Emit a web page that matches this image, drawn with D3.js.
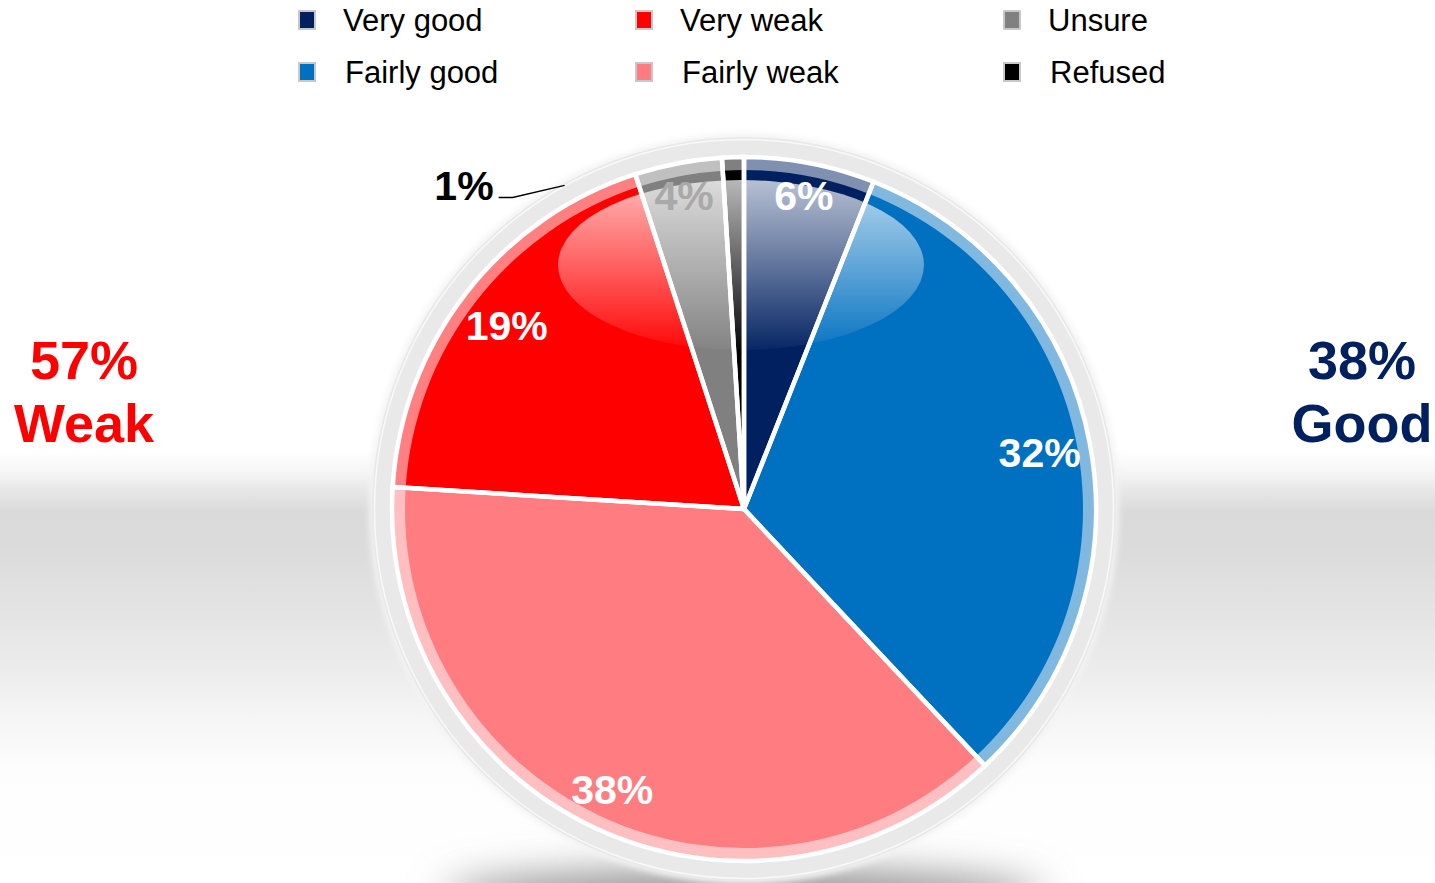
<!DOCTYPE html>
<html>
<head>
<meta charset="utf-8">
<script src="https://cdn.jsdelivr.net/npm/d3@7"></script>
<style>
  html, body { margin: 0; padding: 0; background: #fff; }
  svg { display: block; }
  text { font-family: "Liberation Sans", Arial, Helvetica, sans-serif; }
</style>
</head>
<body>
<svg id="chart" width="1435" height="883"></svg>
<script>
// Survey answers, clockwise from 12 o'clock
const categories = ["Very good", "Fairly good", "Fairly weak", "Very weak", "Unsure", "Refused"];
const values = [6, 32, 38, 19, 4, 1];
const colors = ["#002060", "#0070c0", "#ff7c80", "#ff0000", "#808080", "#000000"];

// Legend layout: three columns of two entries
const legendOrder = ["Very good", "Fairly good", "Very weak", "Fairly weak", "Unsure", "Refused"];

// Summary groups shown beside the pie
const groupNames = ["Weak", "Good"];
const groupMembers = [["Very weak", "Fairly weak"], ["Very good", "Fairly good"]];
const groupColors = ["#ff0000", "#002060"];

const W = 1435, H = 883;
const cx = 744, cy = 509;
const R = 352;          // outer edge of the slices
const bandW = 13;       // light rim on each slice
const ringR = 372;      // grey bezel

const svg = d3.select("#chart");
const defs = svg.append("defs");

// backdrop: a soft grey horizon band behind the pie
const bg = defs.append("linearGradient").attr("id", "bgGrad")
  .attr("x1", 0).attr("y1", 0).attr("x2", 0).attr("y2", 1);
[[0, "#ffffff"], [450, "#ffffff"], [470, "#f7f7f7"], [492, "#e6e6e6"], [512, "#dadada"],
 [545, "#dbdbdb"], [600, "#e2e2e2"], [670, "#ececec"], [720, "#f6f6f6"], [770, "#fdfdfd"], [883, "#ffffff"]]
  .forEach(([y, c]) => bg.append("stop").attr("offset", y / H).attr("stop-color", c));
svg.append("rect").attr("width", W).attr("height", H).attr("fill", "url(#bgGrad)");

// floor shadow
defs.append("filter").attr("id", "shadowBlur").attr("x", "-50%").attr("y", "-200%")
  .attr("width", "200%").attr("height", "500%")
  .append("feGaussianBlur").attr("stdDeviation", 20);
svg.append("ellipse").attr("cx", cx).attr("cy", cy + 388).attr("rx", 300).attr("ry", 26)
  .attr("fill", "#8a8a8a").attr("filter", "url(#shadowBlur)");

const g = svg.append("g").attr("transform", `translate(${cx},${cy})`);

// bezel
defs.append("filter").attr("id", "haloBlur").append("feGaussianBlur").attr("stdDeviation", 3);
g.append("circle").attr("r", ringR + 3).attr("fill", "#f3f3f3").attr("filter", "url(#haloBlur)");
g.append("circle").attr("r", ringR).attr("fill", "#e9e9e9");
g.append("circle").attr("r", ringR - 2.5).attr("fill", "none")
  .attr("stroke", "#ffffff").attr("stroke-opacity", 0.7).attr("stroke-width", 1.5);
g.append("circle").attr("r", R + 1).attr("fill", "#e9e9e9");

const pie = d3.pie().sort(null).value(d => d.value).startAngle(0).endAngle(2 * Math.PI);
const data = categories.map((c, i) => ({ name: c, value: values[i], color: colors[i] }));
const arcs = pie(data);

const arcFull = d3.arc().innerRadius(0).outerRadius(R);
const arcBand = d3.arc().innerRadius(R - bandW).outerRadius(R);

// slices
g.selectAll("path.slice").data(arcs).join("path").attr("class", "slice")
  .attr("d", arcFull).attr("fill", d => d.data.color);

// light rim
g.selectAll("path.band").data(arcs).join("path").attr("class", "band")
  .attr("d", arcBand).attr("fill", "#ffffff").attr("fill-opacity", 0.5);

// glossy highlight
const hl = defs.append("linearGradient").attr("id", "glossGrad")
  .attr("x1", 0).attr("y1", 0).attr("x2", 0).attr("y2", 1);
hl.append("stop").attr("offset", 0).attr("stop-color", "#fff").attr("stop-opacity", 0.72);
hl.append("stop").attr("offset", 0.5).attr("stop-color", "#fff").attr("stop-opacity", 0.38);
hl.append("stop").attr("offset", 1).attr("stop-color", "#fff").attr("stop-opacity", 0.03);
defs.append("clipPath").attr("id", "pieClip").append("circle").attr("r", R - bandW);
g.append("ellipse").attr("cx", -3).attr("cy", -244).attr("rx", 183).attr("ry", 85)
  .attr("fill", "url(#glossGrad)").attr("clip-path", "url(#pieClip)");

// white separators
g.selectAll("path.sep").data(arcs).join("path").attr("class", "sep")
  .attr("d", arcFull).attr("fill", "none")
  .attr("stroke", "#ffffff").attr("stroke-width", 4.5).attr("stroke-linejoin", "miter");

// value labels, placed against the inner end of each slice
const fs = 41, capH = fs * 0.716;
const fmt = v => v + "%";
const inside = arcs.filter(d => d.data.value >= 3);
const tmp = g.append("text").attr("font-size", fs).attr("font-weight", "bold");
inside.forEach(d => {
  tmp.text(fmt(d.data.value));
  const w = tmp.node().getComputedTextLength();
  const a = (d.startAngle + d.endAngle) / 2;
  const s = Math.abs(Math.sin(a)), c = Math.abs(Math.cos(a));
  const r = 345 - (s * w / 2 + c * 20);
  d.lx = Math.sin(a) * r;
  d.ly = -Math.cos(a) * r;
});
tmp.remove();
g.selectAll("text.val").data(inside).join("text").attr("class", "val")
  .attr("x", d => d.lx).attr("y", d => d.ly + capH / 2)
  .attr("text-anchor", "middle").attr("font-size", fs).attr("font-weight", "bold")
  .attr("fill", d => d.data.name === "Unsure" ? "#a9a9a9" : "#ffffff")
  .text(d => fmt(d.data.value));

// tiny slice: label outside with a leader line
const small = arcs.filter(d => d.data.value < 3);
small.forEach(d => {
  const a = -29 * Math.PI / 180;
  const p0 = [Math.sin(a) * (ringR - 2), -Math.cos(a) * (ringR - 2)];
  const p1 = [p0[0] - 52, p0[1] + 12];
  const p2 = [p1[0] - 14, p1[1]];
  g.append("path").attr("d", d3.line()([p0, p1, p2]))
    .attr("fill", "none").attr("stroke", "#000").attr("stroke-width", 1.5);
  g.append("text").attr("x", p2[0] - 5).attr("y", p2[1] + 3)
    .attr("text-anchor", "end").attr("font-size", fs).attr("font-weight", "bold")
    .attr("fill", "#000").text(fmt(d.data.value));
});

// legend
const legend = svg.append("g");
legendOrder.forEach((name, i) => {
  const col = Math.floor(i / 2), row = i % 2;
  const x0 = [299, 636, 1004][col];
  const y0 = [20, 72][row];
  const color = colors[categories.indexOf(name)];
  legend.append("rect").attr("x", x0).attr("y", y0 - 9).attr("width", 16).attr("height", 18)
    .attr("fill", color).attr("stroke", "#c8c8c8").attr("stroke-width", 2);
  legend.append("text").attr("x", x0 + 44 + (row ? 2 : 0)).attr("y", y0 + 11)
    .attr("font-size", 31).attr("fill", "#000").text(name);
});

// group totals
const sides = [{ x: 84 }, { x: 1362 }];
groupNames.forEach((name, i) => {
  const total = d3.sum(groupMembers[i], m => values[categories.indexOf(m)]);
  const t = svg.append("text").attr("text-anchor", "middle").attr("font-size", 54)
    .attr("font-weight", "bold").attr("fill", groupColors[i]);
  t.append("tspan").attr("x", sides[i].x).attr("y", 379).text(total + "%");
  t.append("tspan").attr("x", sides[i].x).attr("y", 442).text(name);
});
</script>
</body>
</html>
